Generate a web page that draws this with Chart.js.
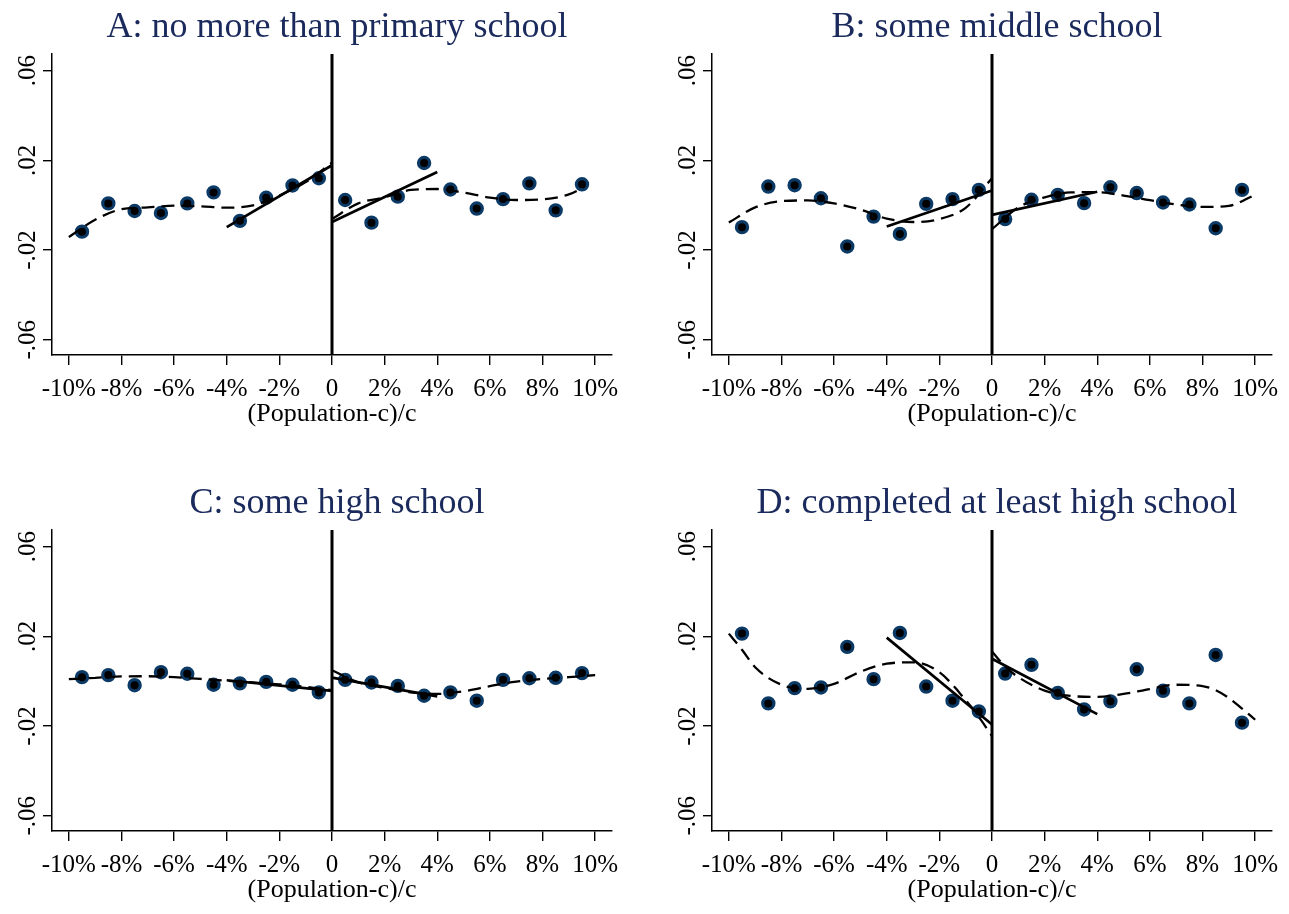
<!DOCTYPE html>
<html>
<head>
<meta charset="utf-8">
<title>Regression discontinuity by education group</title>
<script src="https://cdn.jsdelivr.net/npm/chart.js@4.4.1/dist/chart.umd.min.js"></script>
<style>
  html, body { margin: 0; padding: 0; background: #ffffff; width: 1289px; height: 914px; overflow: hidden; }
  canvas { position: absolute; }
</style>
</head>
<body>
<canvas id="panelA" width="674" height="438" style="left:0px;top:0px"></canvas>
<canvas id="panelB" width="674" height="438" style="left:660px;top:0px"></canvas>
<canvas id="panelC" width="674" height="438" style="left:0px;top:476px"></canvas>
<canvas id="panelD" width="674" height="438" style="left:660px;top:476px"></canvas>
<script>
// ---- axis ticks ----
const xTickValues = [-10, -8, -6, -4, -2, 0, 2, 4, 6, 8, 10];
const xTickLabels = ['-10%', '-8%', '-6%', '-4%', '-2%', '0', '2%', '4%', '6%', '8%', '10%'];
const yTickValues = [-0.06, -0.02, 0.02, 0.06];
const yTickLabels = ['-.06', '-.02', '.02', '.06'];
const xAxisTitle = '(Population-c)/c';

// ---- bin centres (percent distance from cutoff) ----
const binCenters = [-9.5, -8.5, -7.5, -6.5, -5.5, -4.5, -3.5, -2.5, -1.5, -0.5,
                     0.5, 1.5, 2.5, 3.5, 4.5, 5.5, 6.5, 7.5, 8.5, 9.5];

// ---- bin means ----
const meansA = [-0.0118, 0.0008, -0.0026, -0.0035, 0.0008, 0.0057, -0.0070, 0.0033, 0.0088, 0.0120,
                 0.0023, -0.0078, 0.0038, 0.0188, 0.0070, -0.0015, 0.0027, 0.0097, -0.0023, 0.0093];
const meansB = [-0.0098, 0.0083, 0.0089, 0.0031, -0.0184, -0.0051, -0.0128, 0.0006, 0.0027, 0.0068,
                -0.0062, 0.0024, 0.0046, 0.0009, 0.0080, 0.0054, 0.0012, 0.0003, -0.0103, 0.0068];
const meansC = [0.0018, 0.0027, -0.0018, 0.0040, 0.0033, -0.0016, -0.0010, -0.0003, -0.0016, -0.0050,
                0.0006, -0.0006, -0.0021, -0.0065, -0.0050, -0.0087, 0.0006, 0.0013, 0.0015, 0.0036];
const meansD = [0.0212, -0.0099, -0.0031, -0.0028, 0.0153, 0.0009, 0.0215, -0.0024, -0.0087, -0.0135,
                0.0034, 0.0073, -0.0052, -0.0126, -0.0090, 0.0053, -0.0043, -0.0099, 0.0117, -0.0185];

// ---- local linear fits within 4% of the cutoff ----
const linearLeftX = [-4, 0];
const linearRightX = [0, 4];
const linearLeftA = [-0.0098, 0.0178];
const linearRightA = [-0.0075, 0.0148];
const linearLeftB = [-0.0095, 0.0065];
const linearRightB = [-0.0043, 0.0060];
const linearLeftC = [0.0004, -0.0043];
const linearRightC = [0.0016, -0.0068];
const linearLeftD = [0.0194, -0.0193];
const linearRightD = [0.0100, -0.0147];

// ---- polynomial fits over the full window ----
const polyLeftX = [-10, -9, -8, -7, -6, -5, -4, -3, -2, -1, 0];
const polyRightX = [0, 1, 2, 3, 4, 5, 6, 7, 8, 9, 10];
const polyRightXA = [0, 1, 2, 3, 4, 5, 6, 7, 8, 9, 9.6];
const polyLeftXD = [-10, -9.5, -9, -8, -7, -6, -5, -4, -3, -2, -1, -0.5, 0];
const polyRightXD = [0, 0.5, 1, 2, 3, 4, 5, 6, 7, 8, 8.5, 9, 9.5, 10];

const polyLeftA = [-0.0142, -0.0065, -0.0018, -0.0010, -0.0002, -0.0005, -0.0011, -0.0001, 0.0043, 0.0103, 0.0190];
const polyRightA = [-0.0062, 0.0008, 0.0035, 0.0068, 0.0072, 0.0056, 0.0034, 0.0023, 0.0026, 0.0048, 0.0082];
const polyLeftB = [-0.0077, -0.0010, 0.0018, 0.0021, 0.0008, -0.0020, -0.0060, -0.0075, -0.0062, -0.0012, 0.0120];
const polyRightB = [-0.0107, -0.0010, 0.0035, 0.0057, 0.0058, 0.0043, 0.0022, 0.0003, -0.0008, -0.0003, 0.0046];
const polyLeftC = [0.0009, 0.0015, 0.0021, 0.0022, 0.0018, 0.0010, 0.0002, -0.0006, -0.0014, -0.0025, -0.0040];
const polyRightC = [0.0049, -0.0005, -0.0030, -0.0050, -0.0057, -0.0045, -0.0022, -0.0002, 0.0010, 0.0018, 0.0027];
const polyLeftD = [0.0212, 0.0140, 0.0062, -0.0016, -0.0034, -0.0012, 0.0042, 0.0078, 0.0084, 0.0040, -0.0085, -0.0160, -0.0245];
const polyRightD = [0.0132, 0.0065, 0.0018, -0.0042, -0.0066, -0.0070, -0.0057, -0.0035, -0.0016, -0.0022, -0.0040, -0.0075, -0.0122, -0.0172];

// ---- panel titles ----
const panelTitles = [
  'A: no more than primary school',
  'B: some middle school',
  'C: some high school',
  'D: completed at least high school'
];

// ---- axis ranges ----
const X_MIN = -10.64, X_MAX = 10.64;
const Y_MIN = -0.0668, Y_MAX = 0.0674;

const SERIF = '"Liberation Serif", "Times New Roman", Times, serif';
const TITLE_COLOR = '#1b2a5c';
const RING_COLOR = '#0c3a66';

function pairs(xs, ys) {
  return xs.map((x, i) => ({ x: x, y: ys[i] }));
}

// rotated y tick labels, read bottom-to-top
const yLabelPlugin = {
  id: 'yLabels',
  afterDraw(chart) {
    const ctx = chart.ctx;
    const yScale = chart.scales.y;
    const cx = chart.chartArea.left - 24;
    ctx.save();
    ctx.font = '25px ' + SERIF;
    ctx.fillStyle = '#000';
    ctx.textAlign = 'center';
    ctx.textBaseline = 'middle';
    yTickValues.forEach((v, i) => {
      const py = yScale.getPixelForValue(v);
      ctx.save();
      ctx.translate(cx, py);
      ctx.rotate(-Math.PI / 2);
      ctx.fillText(yTickLabels[i], 0, 0);
      ctx.restore();
    });
    ctx.restore();
  }
};

function drawPanel(id, title, means, linL, linR, pLX, pLY, pRX, pRY) {
  const lineBase = { showLine: true, pointRadius: 0, borderColor: '#000', fill: false };
  new Chart(document.getElementById(id), {
    type: 'scatter',
    data: {
      datasets: [
        Object.assign({ data: [{ x: 0, y: Y_MIN }, { x: 0, y: Y_MAX }], borderWidth: 3 }, lineBase),
        Object.assign({ data: pairs(linearLeftX, linL), borderWidth: 2.7 }, lineBase),
        Object.assign({ data: pairs(linearRightX, linR), borderWidth: 2.7 }, lineBase),
        Object.assign({ data: pairs(pLX, pLY), borderWidth: 2.3, borderDash: [13, 7], cubicInterpolationMode: 'monotone' }, lineBase),
        Object.assign({ data: pairs(pRX, pRY), borderWidth: 2.3, borderDash: [13, 7], cubicInterpolationMode: 'monotone' }, lineBase),
        {
          data: pairs(binCenters, means),
          showLine: false,
          pointRadius: 5.6,
          pointBorderWidth: 3.2,
          pointBackgroundColor: '#000',
          pointBorderColor: RING_COLOR
        }
      ]
    },
    options: {
      responsive: false,
      animation: false,
      events: [],
      devicePixelRatio: 1,
      layout: { padding: 0 },
      plugins: {
        legend: { display: false },
        tooltip: { enabled: false },
        title: {
          display: true,
          text: title,
          color: TITLE_COLOR,
          font: { family: SERIF, size: 36, weight: 'normal' },
          padding: { top: 6, bottom: 4.8 }
        }
      },
      scales: {
        x: {
          type: 'linear',
          min: X_MIN,
          max: X_MAX,
          afterBuildTicks: (s) => { s.ticks = xTickValues.map(v => ({ value: v })); },
          afterFit: (s) => { s.height = 83; },
          ticks: {
            autoSkip: false,
            minRotation: 0,
            maxRotation: 0,
            padding: 9,
            color: '#000',
            font: { family: SERIF, size: 25 },
            callback: (v, i) => xTickLabels[i]
          },
          grid: { drawOnChartArea: false, drawTicks: true, tickLength: 10, color: '#000', lineWidth: 1.4 },
          border: { display: true, color: '#000', width: 1.5 },
          title: {
            display: true,
            text: xAxisTitle,
            color: '#000',
            font: { family: SERIF, size: 26 },
            padding: { top: 0, bottom: 8 }
          }
        },
        y: {
          type: 'linear',
          min: Y_MIN,
          max: Y_MAX,
          afterBuildTicks: (s) => { s.ticks = yTickValues.map(v => ({ value: v })); },
          afterFit: (s) => { s.width = 52; },
          ticks: { display: false },
          grid: { drawOnChartArea: false, drawTicks: true, tickLength: 9, color: '#000', lineWidth: 1.4 },
          border: { display: true, color: '#000', width: 1.5 }
        },
        // empty right-hand margin so the title centres over the full panel width
        yMargin: {
          type: 'linear',
          position: 'right',
          min: Y_MIN,
          max: Y_MAX,
          afterFit: (s) => { s.width = 62; },
          ticks: { display: false },
          grid: { display: false, drawOnChartArea: false, drawTicks: false },
          border: { display: false }
        }
      }
    },
    plugins: [yLabelPlugin]
  });
}

drawPanel('panelA', panelTitles[0], meansA, linearLeftA, linearRightA, polyLeftX, polyLeftA, polyRightXA, polyRightA);
drawPanel('panelB', panelTitles[1], meansB, linearLeftB, linearRightB, polyLeftX, polyLeftB, polyRightX, polyRightB);
drawPanel('panelC', panelTitles[2], meansC, linearLeftC, linearRightC, polyLeftX, polyLeftC, polyRightX, polyRightC);
drawPanel('panelD', panelTitles[3], meansD, linearLeftD, linearRightD, polyLeftXD, polyLeftD, polyRightXD, polyRightD);
</script>
</body>
</html>
